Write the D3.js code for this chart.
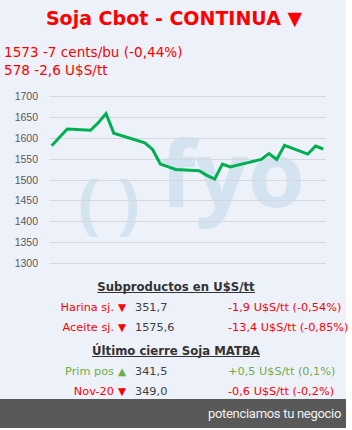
<!DOCTYPE html>
<html>
<head>
<meta charset="utf-8">
<script src="https://cdn.jsdelivr.net/npm/d3@7"></script>
<style>
  body { margin: 0; background: #ffffff; }
  svg { display: block; }
</style>
</head>
<body>
<script>
// datos de la serie (cents/bu)
var fechas = ["2022-05-04", "2022-05-06", "2022-05-09", "2022-05-10", "2022-05-11", "2022-05-12",
              "2022-05-16", "2022-05-17", "2022-05-18", "2022-05-20", "2022-05-23", "2022-05-24",
              "2022-05-25", "2022-05-26", "2022-05-27", "2022-05-31", "2022-06-01", "2022-06-02",
              "2022-06-03", "2022-06-06", "2022-06-07", "2022-06-08"];
var precios = [1581, 1621, 1618, 1636, 1658, 1611, 1588, 1572, 1537, 1524, 1521, 1510,
               1501, 1537, 1530, 1548, 1562, 1548, 1582, 1561, 1580, 1573];
var ticksY = [1300, 1350, 1400, 1450, 1500, 1550, 1600, 1650, 1700];

// tabla de subproductos y MATBA
var subNombres = ["Harina sj.", "Aceite sj."];
var subFlechas = ["▼", "▼"];
var subValores = ["351,7", "1575,6"];
var subCambios = ["-1,9 U$S/tt (-0,54%)", "-13,4 U$S/tt (-0,85%)"];

var matbaNombres = ["Prim pos", "Nov-20"];
var matbaFlechas = ["▲", "▼"];
var matbaValores = ["341,5", "349,0"];
var matbaCambios = ["+0,5 U$S/tt (0,1%)", "-0,6 U$S/tt (-0,2%)"];

var width = 352;
var height = 430;
var rojo = "#ff0000";
var verde = "#70ad47";
var gris = "#404040";

var svg = d3.select("body").append("svg")
    .attr("width", width)
    .attr("height", height);

// fondo
svg.append("rect")
    .attr("x", 0).attr("y", 0)
    .attr("width", 346).attr("height", 428)
    .attr("fill", "#edf1f9");

// titulo
svg.append("text")
    .attr("x", 174)
    .attr("y", 25)
    .attr("text-anchor", "middle")
    .attr("font-family", "DejaVu Sans")
    .attr("font-weight", "bold")
    .attr("font-size", "19px")
    .attr("fill", rojo)
    .text("Soja Cbot - CONTINUA ▼");

svg.append("text")
    .attr("x", 4).attr("y", 57)
    .attr("font-family", "DejaVu Sans")
    .attr("font-size", "13.6px")
    .attr("fill", rojo)
    .text("1573 -7 cents/bu (-0,44%)");

svg.append("text")
    .attr("x", 4).attr("y", 75)
    .attr("font-family", "DejaVu Sans")
    .attr("font-size", "13.6px")
    .attr("fill", rojo)
    .text("578 -2,6 U$S/tt");

svg.append("text")
    .attr("x", 346).attr("y", 75)
    .attr("text-anchor", "end")
    .attr("font-family", "Liberation Sans")
    .attr("font-size", "12px")
    .attr("fill", "#f1f4fa")
    .text("#¿NOMBRE?");

// marca de agua
var marca = svg.append("g").attr("fill", "#d3e3ef").attr("font-family", "Open Sans").attr("font-weight", "bold");
marca.append("text")
    .attr("x", 78).attr("y", 227)
    .attr("font-size", "66px")
    .text("( )");
marca.append("text")
    .attr("x", 160).attr("y", 207)
    .attr("font-size", "92px")
    .text("fyo");

// escalas
var parse = d3.timeParse("%Y-%m-%d");
var datos = fechas.map(function(f, i) { return { fecha: parse(f), valor: precios[i] }; });

var x = d3.scaleTime()
    .domain(d3.extent(datos, function(d) { return d.fecha; }))
    .range([51.7, 323.3]);

var y = d3.scaleLinear()
    .domain([1300, 1700])
    .range([263, 96]);

var xGrid = [49.5, 326];

svg.append("g")
    .selectAll("line")
    .data(ticksY)
    .enter()
    .append("line")
    .attr("x1", xGrid[0]).attr("x2", xGrid[1])
    .attr("y1", function(d) { return Math.round(y(d)) + 0.5; })
    .attr("y2", function(d) { return Math.round(y(d)) + 0.5; })
    .attr("stroke", "#d6d8dc")
    .attr("stroke-width", 1);

svg.append("g")
    .selectAll("text")
    .data(ticksY)
    .enter()
    .append("text")
    .attr("x", 38)
    .attr("y", function(d) { return y(d) + 4; })
    .attr("text-anchor", "end")
    .attr("font-family", "Liberation Sans")
    .attr("font-size", "10.5px")
    .attr("fill", "#595959")
    .text(function(d) { return d; });

var linea = d3.line()
    .x(function(d) { return x(d.fecha); })
    .y(function(d) { return y(d.valor); });

svg.append("path")
    .datum(datos)
    .attr("d", linea)
    .attr("fill", "none")
    .attr("stroke", "#00b050")
    .attr("stroke-width", 3)
    .attr("stroke-linejoin", "miter");

// tablas
function encabezado(texto, yy) {
    var t = svg.append("text")
        .attr("x", 176).attr("y", yy)
        .attr("text-anchor", "middle")
        .attr("font-family", "DejaVu Sans")
        .attr("font-weight", "bold")
        .attr("font-size", "11.7px")
        .attr("fill", "#333333")
        .text(texto);
    var bb = t.node().getBBox();
    svg.append("line")
        .attr("x1", bb.x).attr("x2", bb.x + bb.width)
        .attr("y1", yy + 1.5).attr("y2", yy + 1.5)
        .attr("stroke", "#333333")
        .attr("stroke-width", 1);
}

function filas(nombres, flechas, valores, cambios, y0) {
    nombres.forEach(function(n, i) {
        var col = flechas[i] == "▲" ? verde : rojo;
        var yy = y0 + i * 20;
        var g = svg.append("g")
            .attr("font-family", "DejaVu Sans")
            .attr("font-size", "11.3px");
        g.append("text").attr("x", 114).attr("y", yy).attr("text-anchor", "end")
            .attr("fill", col).text(n);
        g.append("text").attr("x", 118).attr("y", yy)
            .attr("font-size", "10.5px").attr("fill", col).text(flechas[i]);
        g.append("text").attr("x", 135).attr("y", yy)
            .attr("fill", gris).text(valores[i]);
        g.append("text").attr("x", 228).attr("y", yy)
            .attr("fill", col).text(cambios[i]);
    });
}

encabezado("Subproductos en U$S/tt", 291);
filas(subNombres, subFlechas, subValores, subCambios, 311);
encabezado("Último cierre Soja MATBA", 355);
filas(matbaNombres, matbaFlechas, matbaValores, matbaCambios, 375);

// pie
svg.append("rect")
    .attr("x", 0).attr("y", 399)
    .attr("width", 346).attr("height", 29)
    .attr("fill", "#595959");

svg.append("text")
    .attr("x", 341).attr("y", 418)
    .attr("text-anchor", "end")
    .attr("font-family", "Roboto")
    .attr("font-size", "13px")
    .attr("letter-spacing", "-0.3px")
    .attr("fill", "#f2f2f2")
    .text("potenciamos tu negocio");
</script>
</body>
</html>
